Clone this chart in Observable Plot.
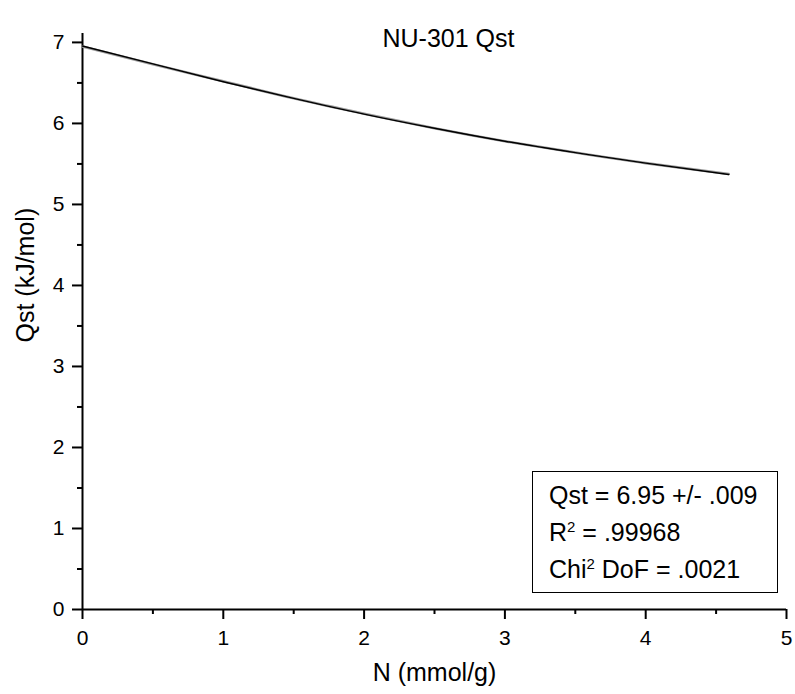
<!DOCTYPE html>
<html>
<head>
<meta charset="utf-8">
<script src="https://cdn.jsdelivr.net/npm/d3@7"></script>
<script src="https://cdn.jsdelivr.net/npm/@observablehq/plot@0.6"></script>
<style>
  html, body { margin: 0; padding: 0; background: #fff; }
  #wrap { position: relative; width: 795px; height: 694px; font-family: "Liberation Sans", Arial, sans-serif; }
  #wrap svg g[aria-label$="tick label"] { font-size: 21px; }
  #wrap svg g[aria-label$="-axis tick"] { stroke-width: 2px; }
  #legend { position: absolute; left: 532px; top: 471px; width: 246px; height: 122px; box-sizing: border-box;
    border: 1px solid #000; padding: 5px 0 0 16px; font-size: 25px; line-height: 37px; color: #000; background: #fff; }
  #legend sup { font-size: 15px; line-height: 0; vertical-align: 0.6em; }
</style>
</head>
<body>
<div id="wrap"></div>
<script>
// Data
const nPoints = [0, 0.5, 1, 1.5, 2, 2.5, 3, 3.5, 4, 4.59];
const qstMeasured = [6.95, 6.73, 6.52, 6.31, 6.12, 5.94, 5.78, 5.64, 5.51, 5.375];
const qstFit = [6.955, 6.735, 6.515, 6.31, 6.115, 5.94, 5.78, 5.64, 5.51, 5.37];
const xMajorTicks = [0, 1, 2, 3, 4, 5];
const xMinorTicks = [0.5, 1.5, 2.5, 3.5, 4.5];
const yMajorTicks = [0, 1, 2, 3, 4, 5, 6, 7];
const yMinorTicks = [0.5, 1.5, 2.5, 3.5, 4.5, 5.5, 6.5];
const titleText = "NU-301 Qst";
const xLabel = "N (mmol/g)";
const yLabel = "Qst (kJ/mol)";
const legendLines = ["Qst = 6.95 +/- .009", "R<sup>2</sup> = .99968", "Chi<sup>2</sup> DoF = .0021"];

const measured = nPoints.map((n, i) => ({n, q: qstMeasured[i]}));
const fit = nPoints.map((n, i) => ({n, q: qstFit[i]}));

const chart = Plot.plot({
  width: 795,
  height: 694,
  marginLeft: 82,
  marginRight: 9,
  marginTop: 33,
  marginBottom: 85,
  style: {fontFamily: "Liberation Sans, Arial, sans-serif", background: "#fff", color: "#000"},
  x: {domain: [0, 5]},
  y: {domain: [0, 7.11]},
  marks: [
    Plot.axisX({ticks: xMajorTicks, tickSize: 10, tickPadding: 11, strokeWidth: 2, fontSize: 21, label: null, tickFormat: d => String(d)}),
    Plot.axisX({ticks: xMinorTicks, tickSize: 5, strokeWidth: 2, label: null, tickFormat: () => ""}),
    Plot.axisY({ticks: yMajorTicks, tickSize: 10, tickPadding: 8, strokeWidth: 2, fontSize: 21, label: null, tickFormat: d => String(d)}),
    Plot.axisY({ticks: yMinorTicks, tickSize: 5, strokeWidth: 2, label: null, tickFormat: () => ""}),
    Plot.ruleX([0], {strokeWidth: 2}),
    Plot.ruleY([0], {strokeWidth: 2}),
    Plot.line(measured, {x: "n", y: "q", stroke: "#9a9a9a", strokeWidth: 2.6, curve: "natural"}),
    Plot.line(fit, {x: "n", y: "q", stroke: "#000", strokeWidth: 1.4, curve: "natural"}),
    Plot.text([titleText], {frameAnchor: "top", dx: 14, dy: -4.5, fontSize: 25, fill: "#000"}),
    Plot.text([xLabel], {frameAnchor: "bottom", dy: 71, fontSize: 25, fill: "#000"}),
    Plot.text([yLabel], {frameAnchor: "left", rotate: -90, dx: -57, dy: 21, fontSize: 25, fill: "#000"})
  ]
});

const wrap = document.getElementById("wrap");
wrap.appendChild(chart);
const legend = document.createElement("div");
legend.id = "legend";
legend.innerHTML = legendLines.map(s => `<div>${s}</div>`).join("");
wrap.appendChild(legend);
</script>
</body>
</html>
